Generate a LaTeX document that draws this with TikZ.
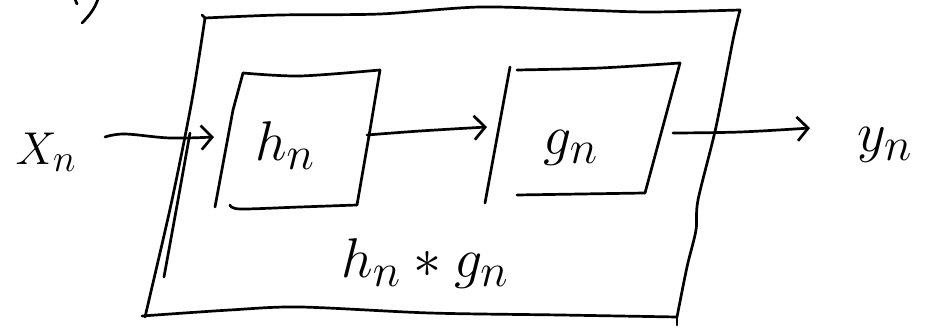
\documentclass[tikz,border=0pt]{standalone}
\usetikzlibrary{arrows.meta}

\tikzset{
  ink/.style={line width=2.7pt, line cap=round, line join=round, black},
  inkarrow/.style={ink, -{Straight Barb[length=11pt,width=24pt,line width=2.7pt]}},
  hand/.style={inner sep=0pt, font=\Huge, scale=#1},
  hand/.default=2.25
}

\begin{document}
\begin{tikzpicture}[x=1pt, y=-1pt]
  \useasboundingbox (0,0) rectangle (927,328);

  % corner points of the outer system box
  \coordinate (oTL) at (205,18);
  \coordinate (oTR) at (740,10);
  \coordinate (oBR) at (677,317);
  \coordinate (oBL) at (142,316);

  % first block h_n
  \coordinate (hTL) at (243,73);
  \coordinate (hTR) at (380,70);
  \coordinate (hBR) at (357,205);
  \coordinate (hBL) at (215,207);

  % second block g_n
  \coordinate (gTL) at (510,67);
  \coordinate (gTR) at (680,63);
  \coordinate (gBR) at (645,193);
  \coordinate (gBL) at (485,203);

  % arrow end points
  \coordinate (inS) at (105,137);
  \coordinate (inE) at (214,137);
  \coordinate (midS) at (367,135);
  \coordinate (midE) at (487,127);
  \coordinate (outS) at (673,133);
  \coordinate (outE) at (810,128);

  % labels
  \node[hand=1.85, anchor=base] (xn) at (46,165) {$X_n$};
  \node[hand, anchor=base] (hn) at (285,161) {$h_n$};
  \node[hand, anchor=base] (gn) at (571,155) {$g_n$};
  \node[hand, anchor=base] (yn) at (885,152) {$y_n$};
  \node[hand, anchor=base] (conv) at (425,278) {$h_n \ast g_n$};

  % remnant stroke in the top left corner
  \draw[ink] (98,-1) .. controls (95,8) and (90,15) .. (82,23);
  \draw[ink] (75,-1) -- (77,4);

  % outer box, drawn freehand
  \draw[ink] plot[smooth, tension=0.5] coordinates
    {(oTL) (280,15) (380,14) (480,7) (580,10) (650,12) (oTR)};
  \draw[ink] plot[smooth, tension=0.5] coordinates
    {(oTR) (733,40) (716,127) (698,200) (696,230) (687,267) (oBR)};
  \draw[ink] (oBR) -- (677,325);
  \draw[ink] plot[smooth, tension=0.5] coordinates
    {(oBR) (560,315) (430,313) (300,307) (230,310) (oBL)};
  \draw[ink] plot[smooth, tension=0.5] coordinates
    {(oTL) (192,100) (172,200) (149,300) (145,317)};
  \draw[ink] (oTL) -- (202,15);
  % second stroke along the left side
  \draw[ink] (190,133) -- (178,200) -- (164,277);

  % block h_n
  \draw[ink] plot[smooth, tension=0.5] coordinates {(hTL) (300,76) (hTR)};
  \draw[ink] (hTL) -- (233,110) -- (hBL);
  \draw[ink] (hTR) -- (370,130) -- (hBR);
  \draw[ink] plot[smooth, tension=0.5] coordinates {(230,205) (240,209) (300,207) (hBR)};

  % block g_n
  \draw[ink] plot[smooth, tension=0.5] coordinates {(517,70) (600,68) (gTR)};
  \draw[ink] (gTL) -- (gBL);
  \draw[ink] (gTR) -- (gBR);
  \draw[ink] (517,195) -- (gBR);

  % signal flow
  \draw[inkarrow] plot[smooth, tension=0.6] coordinates {(inS) (125,134) (170,138) (inE)};
  \draw[inkarrow] plot[smooth, tension=0.6] coordinates {(midS) (420,131) (midE)};
  \draw[inkarrow] plot[smooth, tension=0.6] coordinates {(outS) (740,132) (outE)};
\end{tikzpicture}
\end{document}
